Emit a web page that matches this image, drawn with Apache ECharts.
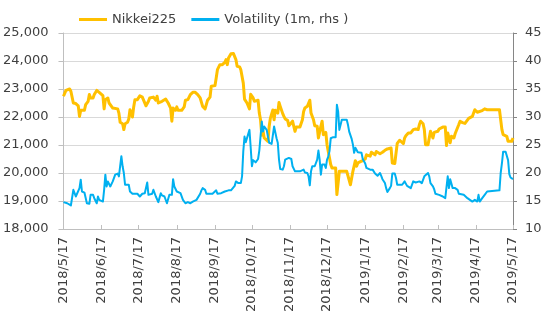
<!DOCTYPE html>
<html><head><meta charset="utf-8">
<script src="https://cdn.jsdelivr.net/npm/echarts@6/dist/echarts.min.js"></script>
<style>html,body{margin:0;padding:0;background:#fff}#c{width:549px;height:322px}</style>
</head><body><div id="c"></div>
<script>
// ---- data ----
const startDay = '2018/5/17';
const endDay = '2019/5/17';
const seriesNames = ['Nikkei225', 'Volatility (1m, rhs )'];
const leftTicks = [18000, 19000, 20000, 21000, 22000, 23000, 24000, 25000];
const rightTicks = [10, 15, 20, 25, 30, 35, 40, 45];

const nikkeiDates = [
'2018/5/17','2018/5/19','2018/5/22','2018/5/23','2018/5/25','2018/5/27','2018/5/29','2018/5/30','2018/5/31',
'2018/6/3','2018/6/4','2018/6/6','2018/6/7','2018/6/8','2018/6/10','2018/6/11','2018/6/13','2018/6/15','2018/6/16','2018/6/18','2018/6/19','2018/6/20','2018/6/22','2018/6/23','2018/6/24','2018/6/26','2018/6/27','2018/6/30',
'2018/7/1','2018/7/2','2018/7/4','2018/7/5','2018/7/6','2018/7/8','2018/7/9','2018/7/10','2018/7/12','2018/7/13','2018/7/14','2018/7/16','2018/7/17','2018/7/18','2018/7/20','2018/7/21','2018/7/23','2018/7/25','2018/7/26','2018/7/29','2018/7/31',
'2018/8/1','2018/8/2','2018/8/5','2018/8/6','2018/8/8','2018/8/9','2018/8/10','2018/8/12','2018/8/13','2018/8/14','2018/8/16','2018/8/17','2018/8/18','2018/8/21','2018/8/23','2018/8/24','2018/8/26','2018/8/28','2018/8/30',
'2018/9/1','2018/9/3','2018/9/5','2018/9/7','2018/9/9','2018/9/10','2018/9/11','2018/9/13','2018/9/14','2018/9/17','2018/9/18','2018/9/19','2018/9/21','2018/9/23','2018/9/25','2018/9/26','2018/9/27','2018/9/28','2018/9/29','2018/9/30',
'2018/10/2','2018/10/4','2018/10/5','2018/10/7','2018/10/8','2018/10/10','2018/10/11','2018/10/12','2018/10/13','2018/10/14','2018/10/15','2018/10/16','2018/10/18','2018/10/19','2018/10/20','2018/10/22','2018/10/23','2018/10/24','2018/10/25','2018/10/26','2018/10/27','2018/10/28','2018/10/30','2018/10/31',
'2018/11/1','2018/11/3','2018/11/4','2018/11/5','2018/11/7','2018/11/8','2018/11/9','2018/11/11','2018/11/12','2018/11/13','2018/11/15','2018/11/16','2018/11/17','2018/11/19','2018/11/21','2018/11/22','2018/11/25','2018/11/27','2018/11/28','2018/11/29',
'2018/12/1','2018/12/3','2018/12/4','2018/12/6','2018/12/7','2018/12/9','2018/12/10','2018/12/12','2018/12/13','2018/12/14','2018/12/16','2018/12/17','2018/12/18','2018/12/20','2018/12/21','2018/12/22','2018/12/24','2018/12/25','2018/12/26','2018/12/27','2018/12/28','2018/12/30',
'2019/1/2','2019/1/3','2019/1/5','2019/1/6','2019/1/7','2019/1/9','2019/1/10','2019/1/11','2019/1/14','2019/1/17','2019/1/18','2019/1/19','2019/1/21','2019/1/22','2019/1/23','2019/1/25','2019/1/26','2019/1/27','2019/1/29','2019/1/30','2019/1/31',
'2019/2/2','2019/2/4','2019/2/5','2019/2/7','2019/2/8','2019/2/10','2019/2/11','2019/2/12','2019/2/14','2019/2/15','2019/2/17','2019/2/18','2019/2/19','2019/2/21','2019/2/23','2019/2/25','2019/2/26','2019/2/27',
'2019/3/1','2019/3/2','2019/3/3','2019/3/5','2019/3/6','2019/3/7','2019/3/9','2019/3/10','2019/3/11','2019/3/13','2019/3/14','2019/3/15','2019/3/17','2019/3/18','2019/3/19','2019/3/21','2019/3/22','2019/3/23','2019/3/24','2019/3/25','2019/3/27','2019/3/28','2019/3/30','2019/3/31',
'2019/4/3','2019/4/4','2019/4/6','2019/4/8','2019/4/11','2019/4/12','2019/4/14','2019/4/15','2019/4/16','2019/4/18','2019/4/19','2019/4/22','2019/4/24','2019/4/26',
'2019/5/6','2019/5/7','2019/5/8','2019/5/9','2019/5/10','2019/5/12','2019/5/13','2019/5/14','2019/5/16','2019/5/17'
];
const nikkeiValues = [
22740,22950,23000,22920,22500,22480,22400,22020,22240,
22240,22440,22560,22800,22680,22680,22800,22950,22880,22880,22760,22290,22620,22680,22500,22440,22320,22360,22290,
22140,21810,21760,21550,21760,21810,21930,22260,22000,22360,22620,22620,22680,22760,22710,22670,22400,22560,22680,22710,22600,
22740,22500,22560,22520,22640,22620,22500,22320,21850,22320,22240,22360,22240,22240,22360,22600,22620,22800,22880,
22880,22800,22680,22380,22290,22360,22600,22710,23100,23120,23390,23690,23870,23870,23950,24050,23870,24110,24170,24260,
24270,24050,23810,23790,23690,23210,22640,22620,22500,22430,22290,22810,22680,22560,22560,22600,22140,21900,21350,21500,21250,21200,21130,21660,
21960,22250,21900,22240,22140,22520,22380,22120,22020,21930,21880,21690,21690,21850,21490,21640,21640,21900,22200,22320,
22380,22600,22140,21900,21690,21670,21250,21670,21850,21370,21450,21010,20770,20300,20180,20240,20180,19230,19230,20060,20100,20060,
20060,20020,19580,19580,20060,20440,20240,20360,20420,20500,20650,20650,20600,20740,20740,20650,20770,20810,20690,20620,20740,
20810,20860,20810,20890,20360,20340,20700,21060,21170,21170,21050,21250,21330,21430,21430,21550,21610,21570,
21550,21730,21850,21760,21550,21010,21010,21070,21490,21250,21450,21450,21490,21570,21610,21640,21670,21640,20980,21430,21080,21310,21250,21400,
21730,21850,21800,21770,21950,21900,22020,22140,22260,22170,22210,22230,22290,22260,
22260,22200,21550,21370,21340,21310,21130,21070,21130,21250
];

const volDates = [
'2018/5/17','2018/5/20','2018/5/23','2018/5/25','2018/5/26','2018/5/27','2018/5/28','2018/5/30','2018/5/31',
'2018/6/1','2018/6/3','2018/6/5','2018/6/7','2018/6/8','2018/6/10','2018/6/11','2018/6/13','2018/6/14','2018/6/15','2018/6/16','2018/6/18','2018/6/19','2018/6/20','2018/6/21','2018/6/22','2018/6/24','2018/6/26','2018/6/27','2018/6/28','2018/6/30',
'2018/7/1','2018/7/2','2018/7/3','2018/7/4','2018/7/5','2018/7/6','2018/7/9','2018/7/10','2018/7/12','2018/7/16','2018/7/17','2018/7/18','2018/7/20','2018/7/21','2018/7/22','2018/7/24','2018/7/25','2018/7/28','2018/7/29','2018/7/31',
'2018/8/1','2018/8/2','2018/8/4','2018/8/5','2018/8/6','2018/8/7','2018/8/9','2018/8/10','2018/8/11','2018/8/13','2018/8/14','2018/8/15','2018/8/16','2018/8/17','2018/8/20','2018/8/21','2018/8/22','2018/8/24','2018/8/26','2018/8/28','2018/8/30',
'2018/9/2','2018/9/3','2018/9/5','2018/9/6','2018/9/7','2018/9/9','2018/9/10','2018/9/13','2018/9/15','2018/9/18','2018/9/19','2018/9/22','2018/9/25','2018/9/28','2018/9/29','2018/9/30',
'2018/10/1','2018/10/3','2018/10/4','2018/10/6','2018/10/8','2018/10/9','2018/10/10','2018/10/11','2018/10/12','2018/10/13','2018/10/15','2018/10/16','2018/10/17','2018/10/18','2018/10/19','2018/10/20','2018/10/22','2018/10/23','2018/10/24','2018/10/25','2018/10/26','2018/10/27','2018/10/29','2018/10/30','2018/10/31',
'2018/11/2','2018/11/3','2018/11/4','2018/11/6','2018/11/7','2018/11/8','2018/11/9','2018/11/11','2018/11/12','2018/11/13','2018/11/16','2018/11/18','2018/11/19','2018/11/20','2018/11/21','2018/11/25','2018/11/28','2018/11/29',
'2018/12/1','2018/12/2','2018/12/3','2018/12/4','2018/12/5','2018/12/7','2018/12/9','2018/12/10','2018/12/11','2018/12/12','2018/12/13','2018/12/15','2018/12/16','2018/12/17','2018/12/18','2018/12/19','2018/12/20','2018/12/22','2018/12/24','2018/12/25','2018/12/26','2018/12/27','2018/12/29',
'2019/1/2','2019/1/3','2019/1/4','2019/1/6','2019/1/7','2019/1/8','2019/1/9','2019/1/11','2019/1/14','2019/1/15','2019/1/17','2019/1/18','2019/1/21','2019/1/23','2019/1/25','2019/1/26','2019/1/27','2019/1/29','2019/1/30','2019/1/31',
'2019/2/2','2019/2/3','2019/2/4','2019/2/6','2019/2/7','2019/2/8','2019/2/10','2019/2/11','2019/2/12','2019/2/14','2019/2/15','2019/2/16','2019/2/18','2019/2/19','2019/2/20','2019/2/23','2019/2/25','2019/2/27',
'2019/3/2','2019/3/3','2019/3/4','2019/3/6','2019/3/7','2019/3/9','2019/3/10','2019/3/11','2019/3/13','2019/3/14','2019/3/15','2019/3/18','2019/3/21','2019/3/23','2019/3/24','2019/3/25','2019/3/26','2019/3/27','2019/3/29','2019/3/31',
'2019/4/2','2019/4/3','2019/4/7','2019/4/8','2019/4/10','2019/4/11','2019/4/14','2019/4/16','2019/4/18','2019/4/19','2019/4/20','2019/4/21','2019/4/22','2019/4/23','2019/4/24','2019/4/26','2019/4/27',
'2019/5/6','2019/5/7','2019/5/8','2019/5/9','2019/5/11','2019/5/12','2019/5/13','2019/5/14','2019/5/15','2019/5/16','2019/5/17'
];
const volValues = [
14.8,14.6,14.2,17.0,16.4,15.8,15.5,17.3,18.8,
16.7,16.5,14.6,14.5,16.1,16.1,15.5,14.6,15.8,15.2,14.9,14.9,17.0,19.7,17.6,18.5,17.6,18.5,18.8,19.7,19.9,
19.4,19.7,23.0,21.2,20.0,17.9,17.9,16.7,16.3,16.3,16.5,15.8,16.3,16.1,16.4,18.3,16.1,16.3,17.0,15.8,
16.0,14.8,16.4,16.0,16.1,15.8,14.6,14.4,16.1,16.1,18.9,17.6,17.6,16.7,16.4,16.1,15.2,14.6,14.8,14.6,14.9,
15.2,15.5,16.3,16.9,17.3,17.0,16.3,16.3,16.3,16.9,16.3,16.4,16.7,16.9,17.0,16.9,
17.0,17.7,18.5,18.2,18.2,19.4,23.9,26.5,25.5,25.5,27.7,24.6,21.2,22.3,22.5,21.9,22.5,24.0,26.5,29.2,27.4,28.3,27.7,27.4,25.4,
25.2,25.2,28.3,26.2,25.4,22.4,20.7,20.6,21.2,22.4,22.7,22.5,21.2,20.9,20.3,20.3,20.6,20.1,
20.0,19.4,17.8,20.3,21.2,21.2,22.4,24.0,22.4,19.7,21.5,21.5,20.9,22.4,22.9,23.9,26.2,26.4,26.4,32.2,31.0,27.7,29.5,
29.5,28.6,27.4,26.1,25.1,23.6,24.5,23.7,23.6,22.5,21.7,20.9,20.6,20.6,19.9,20.0,19.5,20.0,19.5,18.9,
18.2,17.3,16.6,17.3,17.7,19.9,19.9,19.1,17.9,17.9,18.2,17.9,18.5,18.2,17.7,17.3,18.5,18.3,
18.5,18.2,18.2,19.4,19.7,20.0,19.4,18.2,17.6,17.1,16.3,16.1,15.8,15.5,15.4,19.4,17.3,18.9,17.3,17.3,
17.0,16.3,16.1,15.8,15.5,15.2,14.9,15.2,14.9,16.1,14.9,15.2,15.5,15.8,16.1,16.7,16.9,
16.9,20.0,21.7,23.8,23.8,23.6,22.3,19.8,19.2,19.0,18.9
];

// ---- build calendar-day category axis ----
function fmt(d) { return d.getFullYear() + '/' + (d.getMonth() + 1) + '/' + d.getDate(); }
function parse(s) { const p = s.split('/').map(Number); return new Date(p[0], p[1] - 1, p[2]); }
const days = [];
for (let d = parse(startDay); d <= parse(endDay); d.setDate(d.getDate() + 1)) days.push(fmt(d));
const idx = {}; days.forEach((s, i) => idx[s] = i);
const nikkeiData = nikkeiDates.map((s, i) => [idx[s], nikkeiValues[i]]);
const volData = volDates.map((s, i) => [idx[s], volValues[i]]);
const isMonthTick = (i, v) => /\/17$/.test(v);

const font = 'DejaVu Sans';
const txt = '#404040';
const chart = echarts.init(document.getElementById('c'), null, { renderer: 'canvas' });
chart.setOption({
  animation: false,
  backgroundColor: '#fff',
  textStyle: { fontFamily: font },
  legend: {
    left: 74, top: 8, itemWidth: 28, itemHeight: 3, itemGap: 15,
    icon: 'rect',
    textStyle: { fontFamily: font, fontSize: 13, color: txt },
    data: seriesNames
  },
  grid: { left: 59, right: 36, top: 33, bottom: 93, containLabel: false },
  xAxis: {
    type: 'category', data: days, boundaryGap: false,
    axisLine: { lineStyle: { color: '#bfbfbf', width: 1 } },
    axisTick: { show: true, inside: true, length: 4, interval: isMonthTick, lineStyle: { color: '#bfbfbf' } },
    axisLabel: { interval: isMonthTick, rotate: 90, margin: 8, fontFamily: font, fontSize: 13, color: txt },
    splitLine: { show: false }
  },
  yAxis: [
    {
      type: 'value', min: leftTicks[0], max: leftTicks[leftTicks.length - 1], interval: 1000,
      axisLine: { show: true, lineStyle: { color: '#bfbfbf' } },
      axisTick: { show: true, length: 5, lineStyle: { color: '#bfbfbf' } },
      axisLabel: { margin: 15, fontFamily: font, fontSize: 13, color: txt },
      splitLine: { show: true, lineStyle: { color: '#d9d9d9', width: 1 } }
    },
    {
      type: 'value', min: rightTicks[0], max: rightTicks[rightTicks.length - 1], interval: 5,
      position: 'right',
      axisLine: { show: true, lineStyle: { color: '#868686' } },
      axisTick: { show: true, length: 4, lineStyle: { color: '#868686' } },
      axisLabel: { margin: 12, fontFamily: font, fontSize: 13, color: txt },
      splitLine: { show: false }
    }
  ],
  series: [
    {
      name: seriesNames[0], type: 'line', yAxisIndex: 0, data: nikkeiData,
      showSymbol: false, symbol: 'none', smooth: false,
      lineStyle: { color: '#FFC000', width: 3, join: 'round' }, itemStyle: { color: '#FFC000' }
    },
    {
      name: seriesNames[1], type: 'line', yAxisIndex: 1, data: volData,
      showSymbol: false, symbol: 'none', smooth: false,
      lineStyle: { color: '#00B0F0', width: 2, join: 'round' }, itemStyle: { color: '#00B0F0' }
    }
  ]
});
</script></body></html>
